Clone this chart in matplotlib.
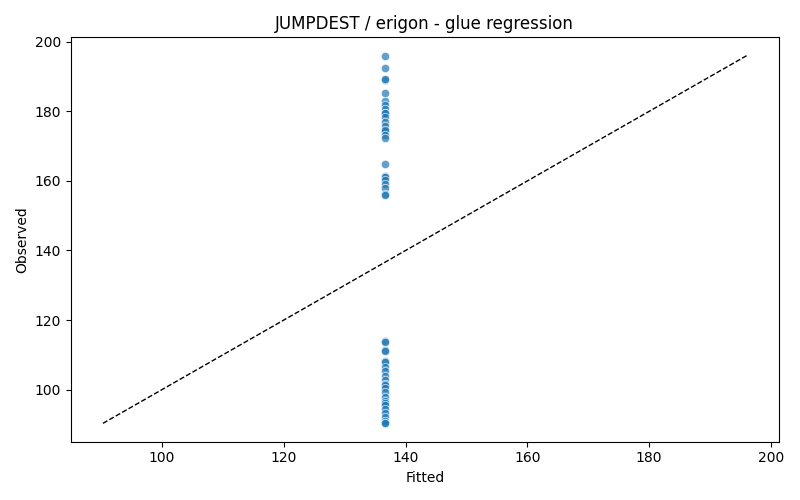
import numpy as np
import matplotlib.pyplot as plt

observed = [196.0, 192.4, 189.1, 189.4, 185.3, 183.0, 181.8, 180.7, 179.4, 179.6,
            178.3, 177.0, 175.8, 174.4, 174.6, 173.2, 172.3,
            164.8, 161.4, 161.1, 160.2, 159.0, 157.9, 156.1, 155.9,
            114.0, 113.6, 111.4, 111.0, 108.1, 108.0, 106.4, 105.3, 104.0, 102.9,
            101.6, 101.4, 100.5, 99.2, 98.0, 96.8, 96.2, 95.7, 94.4, 93.3,
            92.0, 90.9, 90.5, 90.3]
# Glue regression fitted value (constant)
fitted_value = 136.6
fitted = [fitted_value] * len(observed)

fig, ax = plt.subplots(figsize=(8, 5), dpi=100)
ax.scatter(fitted, observed, s=36, alpha=0.7, color='#1f77b4',
           edgecolors='white', linewidths=0.6)

lo = min(min(fitted), min(observed))
hi = max(max(fitted), max(observed))
ax.plot([lo, hi], [lo, hi], 'k--', linewidth=1)

ax.set_xlabel("Fitted")
ax.set_ylabel("Observed")
ax.set_title("JUMPDEST / erigon - glue regression")
plt.tight_layout()
plt.savefig("out.png")
